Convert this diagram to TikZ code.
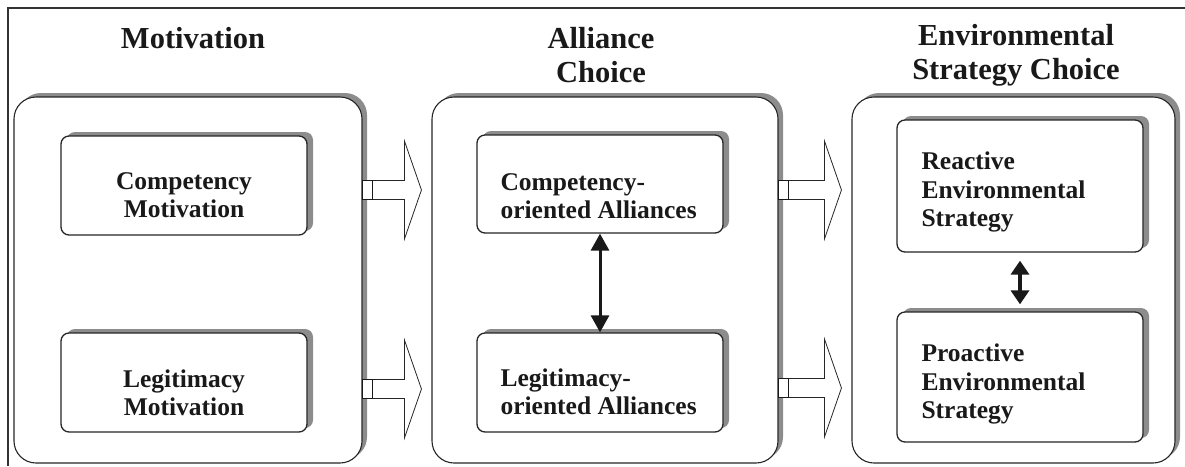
\documentclass[tikz,border=0pt]{standalone}
\usepackage{fontspec}
\setmainfont{Liberation Serif}
\usetikzlibrary{shadows,arrows.meta}

\tikzset{
  x=1pt, y=-1pt,
  panel/.style={draw=black!85, line width=1.1pt, fill=white, rounded corners=22pt,
    drop shadow={shadow xshift=5pt, shadow yshift=4pt, opacity=1, fill=black!45}},
  itembox/.style={draw=black!85, line width=1.3pt, fill=white, rounded corners=8pt,
    minimum width=246pt,
    drop shadow={shadow xshift=6pt, shadow yshift=4pt, opacity=1, fill=black!45}},
  title/.style={font=\fontsize{30.5}{34}\selectfont\bfseries, align=center, text=black!90},
  itemtext/.style={font=\fontsize{25.5}{28.5}\selectfont\bfseries, text=black!90},
  blockarrow/.style={draw=black!85, line width=0.8pt, fill=white, line join=miter},
  stub/.style={draw=black!90, line width=1.6pt, fill=white},
  linkarrow/.style={line width=3pt, draw=black!90,
    {Triangle[width=18pt,length=17pt]}-{Triangle[width=18pt,length=17pt]}},
  linkarrowshort/.style={line width=4pt, draw=black!90,
    {Triangle[width=18pt,length=14pt]}-{Triangle[width=18pt,length=14pt]}}
}

\begin{document}
\begin{tikzpicture}
\useasboundingbox (0,0) rectangle (1185,466);

% frame edges
\draw[line width=1.4pt, black!80] (8,466) -- (8,8) -- (1185,8);

% column titles
\node[title] (t1) at (193,38) {Motivation};
\node[title] (t2) at (601,55) {Alliance\\Choice};
\node[title] (t3) at (1016,55) {Environmental\\Strategy Choice};

% panels
\node[panel, minimum width=348pt, minimum height=366pt] (p1) at (188,280) {};
\node[panel, minimum width=346pt, minimum height=366pt] (p2) at (605,280) {};
\node[panel, minimum width=323pt, minimum height=366pt] (p3) at (1013.5,280) {};

% boxes inside the panels
\node[itembox, minimum height=99pt] (m1) at (184,185.5) {};
\node[itembox, minimum height=99pt] (m2) at (184,382.5) {};
\node[itembox, minimum height=98pt] (a1) at (600,184) {};
\node[itembox, minimum height=99pt] (a2) at (600,382.5) {};
\node[itembox, minimum height=132pt] (s1) at (1020,186) {};
\node[itembox, minimum height=130pt] (s2) at (1020,377) {};

% box texts
\node[itemtext, align=center] (m1t) at (184,195) {Competency\\Motivation};
\node[itemtext, align=center] (m2t) at (184,393) {Legitimacy\\Motivation};
\node[itemtext, align=left, anchor=west] (a1t) at (497,196) {Competency-\\oriented Alliances};
\node[itemtext, align=left, anchor=west] (a2t) at (497,392) {Legitimacy-\\oriented Alliances};
\node[itemtext, align=left, anchor=west] (s1t) at (918,192) {Reactive\\Environmental\\Strategy};
\node[itemtext, align=left, anchor=west] (s2t) at (918,384) {Proactive\\Environmental\\Strategy};

% block arrows from panel to panel
\foreach \src/\dst/\yy in {p1/p2/190, p1/p2/389, p2/p3/190, p2/p3/388}{
  \coordinate (s) at (\src.east |- 0,\yy);
  \coordinate (e) at ([xshift=-10pt]\dst.west |- 0,\yy);
  \path[blockarrow]
    ([xshift=10pt,yshift=-9.5pt]s) -- ([xshift=-17pt,yshift=-9.5pt]e)
    -- ([xshift=-17pt,yshift=-49pt]e) -- (e)
    -- ([xshift=-17pt,yshift=49pt]e) -- ([xshift=-17pt,yshift=9.5pt]e)
    -- ([xshift=10pt,yshift=9.5pt]s) -- cycle;
  \draw[stub] ([yshift=-9.5pt]s) rectangle ([xshift=10pt,yshift=9.5pt]s);
}

% two-way links between the boxes
\draw[linkarrow] (a1.south) -- (a2.north);
\draw[linkarrowshort] ([yshift=-8pt]s1.south) -- ([yshift=7pt]s2.north);
\end{tikzpicture}
\end{document}
